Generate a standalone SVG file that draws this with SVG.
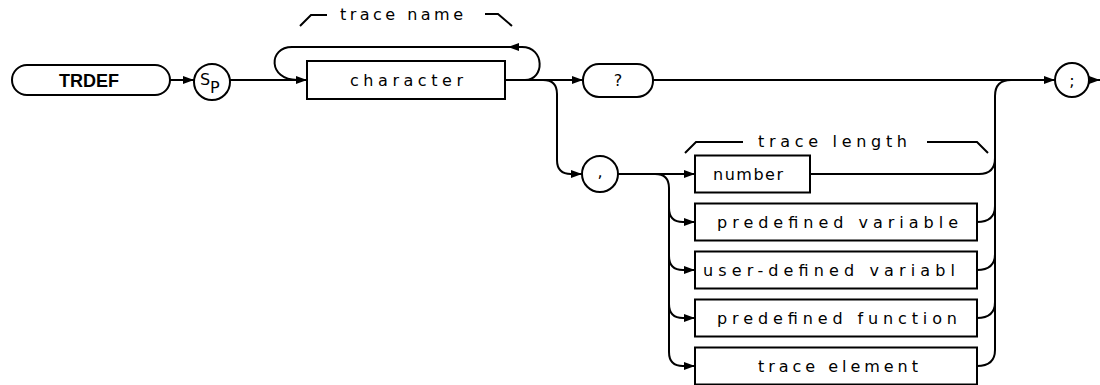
<svg xmlns="http://www.w3.org/2000/svg" width="1100" height="385" viewBox="0 0 1100 385">
<style>
.t{font-family:"DejaVu Sans","Liberation Sans",sans-serif;font-size:16px;fill:#000}
.b{font-family:"Liberation Sans",Arial,sans-serif;font-size:18px;font-weight:bold;fill:#000}
.box{fill:#fff;stroke:#000;stroke-width:2}
.ln{fill:none;stroke:#000;stroke-width:2}
.arr{marker-end:url(#ah)}
</style>
<defs>
<marker id="ah" viewBox="0 0 11 8" refX="11" refY="4" markerWidth="11" markerHeight="8" orient="auto" markerUnits="userSpaceOnUse"><path d="M0,0 L11,4 L0,8 z" fill="#000"/></marker>
</defs>
<g id="connectors">
<path class="ln arr" d="M170 80 L194 80"/>
<path class="ln arr" d="M230 80 L307 80"/>
<path class="ln arr" d="M525 80 C545 80 545 47 522 47 L508 47"/>
<path class="ln" d="M510 47 L292 47 C268 47 268 80 297 80"/>
<path class="ln arr" d="M505 80 L583 80"/>
<path class="ln arr" d="M543 80 Q557 80 557 94 L557 160 Q557 174 571 174 L582 174"/>
<path class="ln arr" d="M653 80 L1055 80"/>
<path class="ln arr" d="M1089 80 L1100 80"/>
<path class="ln arr" d="M618 174 L695 174"/>
<path class="ln arr" d="M655 174 Q669 174 669 188 L669 352 Q669 366 683 366 L695 366"/>
<path class="ln arr" d="M669 208 Q669 222 683 222 L695 222"/>
<path class="ln arr" d="M669 256 Q669 270 683 270 L695 270"/>
<path class="ln arr" d="M669 304 Q669 318 683 318 L695 318"/>
<path class="ln" d="M977 366 Q995 366 995 350 L995 96 Q995 80 1011 80"/>
<path class="ln" d="M810 174 L979 174 Q995 174 995 158"/>
<path class="ln" d="M977 222 Q995 222 995 206"/>
<path class="ln" d="M977 270 Q995 270 995 254"/>
<path class="ln" d="M977 318 Q995 318 995 302"/>
<path class="ln" d="M300 26 L311 15 L327 15"/>
<path class="ln" d="M485 14 L498 14 L512 26"/>
<path class="ln" d="M685 153 L696 142 L743 142"/>
<path class="ln" d="M927 142 L977 142 L988 153"/>
</g>
<g id="trdef"><rect class="box" x="12" y="65" width="158" height="30" rx="15"/><text class="b" x="89" y="87" text-anchor="middle">TRDEF</text></g>
<g id="sp"><circle class="box" cx="212" cy="82" r="18"/><text class="t" x="200" y="85" font-size="15">S</text><text class="t" x="210" y="93" font-size="13">P</text></g>
<g id="character"><rect class="box" x="307" y="61" width="198" height="38"/><text class="t" x="350" y="86" textLength="113" lengthAdjust="spacing">character</text></g>
<text class="t" x="340" y="20" textLength="123" lengthAdjust="spacing">trace name</text>
<g id="question"><rect class="box" x="583" y="64" width="70" height="33" rx="16"/><text class="t" x="618" y="86" text-anchor="middle">?</text></g>
<g id="semicolon"><circle class="box" cx="1072" cy="80" r="17"/><text class="t" x="1072" y="86" text-anchor="middle">;</text></g>
<g id="comma"><circle class="box" cx="600" cy="174" r="18"/><text class="t" x="600" y="177" text-anchor="middle" font-size="18">,</text></g>
<text class="t" x="758" y="147" textLength="149" lengthAdjust="spacing">trace length</text>
<g id="number"><rect class="box" x="695" y="155.5" width="115" height="37"/><text class="t" x="713" y="180" textLength="70" lengthAdjust="spacing">number</text></g>
<g id="predefvar"><rect class="box" x="695" y="203.5" width="282" height="37"/><text class="t" x="717" y="228" textLength="241" lengthAdjust="spacing">predefined variable</text></g>
<g id="userdef"><rect class="box" x="695" y="251.5" width="282" height="37"/><text class="t" x="703" y="276" textLength="252" lengthAdjust="spacing">user-defined variabl</text></g>
<g id="predeffunc"><rect class="box" x="695" y="299.5" width="282" height="37"/><text class="t" x="717" y="324" textLength="240" lengthAdjust="spacing">predefined function</text></g>
<g id="traceelem"><rect class="box" x="695" y="347.5" width="282" height="37"/><text class="t" x="758" y="372" textLength="160" lengthAdjust="spacing">trace element</text></g>
</svg>
